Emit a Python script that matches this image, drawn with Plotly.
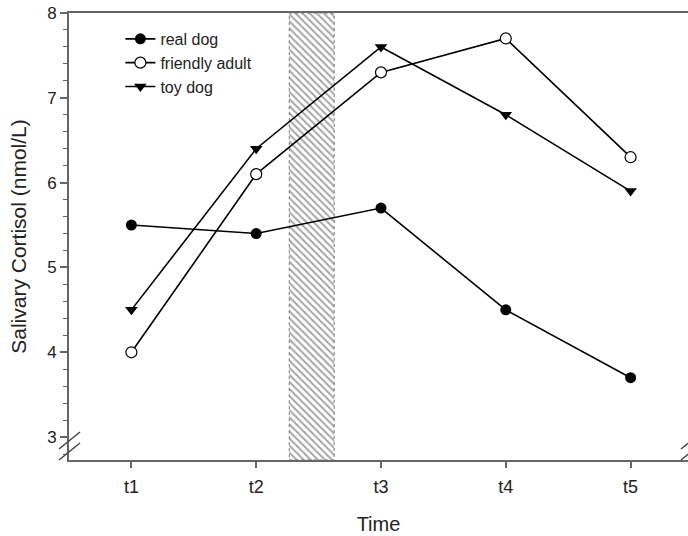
import plotly.graph_objects as go

times = ["t1", "t2", "t3", "t4", "t5"]
xpos = [1, 2, 3, 4, 5]
real_dog = [5.5, 5.4, 5.7, 4.5, 3.7]
friendly_adult = [4.0, 6.1, 7.3, 7.7, 6.3]
toy_dog = [4.5, 6.4, 7.6, 6.8, 5.9]
interval = [2.265, 2.625]   # hatched intervention period (between t2 and t3)
y_range = [2.73, 8.0]
x_range = [0.5, 5.46]

fig = go.Figure()

# hatched intervention band
fig.add_trace(go.Scatter(
    x=[interval[0], interval[1], interval[1], interval[0], interval[0]],
    y=[y_range[0], y_range[0], y_range[1], y_range[1], y_range[0]],
    fill="toself", mode="lines",
    line=dict(color="#777777", width=1, dash="dot"),
    fillcolor="rgba(255,255,255,0)",
    fillpattern=dict(shape="\\", fgcolor="#4a4a4a", bgcolor="white", size=5, solidity=0.4),
    showlegend=False, hoverinfo="skip"))

common = dict(mode="lines+markers", line=dict(color="black", width=1.6))
fig.add_trace(go.Scatter(x=xpos, y=real_dog, name="real dog",
                         marker=dict(symbol="circle", size=11, color="black"), **common))
fig.add_trace(go.Scatter(x=xpos, y=friendly_adult, name="friendly adult",
                         marker=dict(symbol="circle", size=11, color="white",
                                     line=dict(color="black", width=1.2)), **common))
fig.add_trace(go.Scatter(x=xpos, y=toy_dog, name="toy dog",
                         marker=dict(symbol="triangle-down", size=11, color="black"), **common))

axis_col = "#666666"
fig.update_xaxes(range=x_range, tickvals=xpos, ticktext=times, showgrid=False, zeroline=False,
                 showline=True, linecolor=axis_col, linewidth=2, mirror=True,
                 ticks="outside", ticklen=6, tickcolor=axis_col, tickwidth=1.5,
                 ticklabelstandoff=3,
                 title=dict(text="Time", font=dict(size=20, color="#222"), standoff=21),
                 tickfont=dict(size=18, color="#222"))
fig.update_yaxes(range=y_range, tickvals=[3, 4, 5, 6, 7, 8], showgrid=False, zeroline=False,
                 showline=True, linecolor=axis_col, linewidth=2,
                 ticks="outside", ticklen=7, tickcolor=axis_col, tickwidth=1.5,
                 ticklabeloverflow="allow",
                 minor=dict(dtick=0.2, ticks="outside", ticklen=4, tickcolor=axis_col, tickwidth=1.2),
                 title=dict(text="Salivary Cortisol (nmol/L)", font=dict(size=21, color="#222"), standoff=15),
                 tickfont=dict(size=17, color="#222"))

# axis break marks
W, H = 619.0, 447.0
for dy in (0, 11):
    fig.add_shape(type="line", xref="paper", yref="paper",
                  x0=-10 / W, x1=11 / W, y0=(0 + dy) / H, y1=(17 + dy) / H,
                  line=dict(color="#444", width=1.5))
    fig.add_shape(type="line", xref="paper", yref="paper",
                  x0=(616 - 4) / W, x1=(616 + 11) / W, y0=(0 + dy) / H, y1=(12 + dy) / H,
                  line=dict(color="#444", width=1.5))

fig.update_layout(
    width=688, height=536,
    margin=dict(l=69, r=0, t=13, b=76, autoexpand=False),
    plot_bgcolor="white", paper_bgcolor="white",
    font=dict(family="Liberation Sans, Arial, sans-serif", color="#222"),
    legend=dict(x=0.083, y=0.98, xanchor="left", yanchor="top",
                bgcolor="rgba(0,0,0,0)", font=dict(size=16), tracegroupgap=0,
                itemwidth=30),
)

fig.write_html("out.html", config={"displayModeBar": False},
               post_script="document.body.style.margin='0';document.body.style.overflow='hidden';")
